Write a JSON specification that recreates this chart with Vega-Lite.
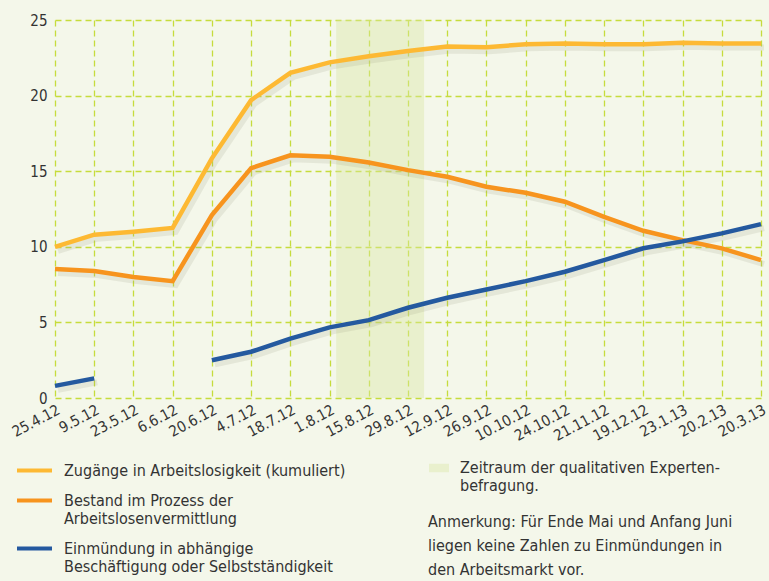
{
  "$schema": "https://vega.github.io/schema/vega-lite/v6.json",
  "width": 706,
  "height": 378,
  "autosize": "none",
  "padding": {"left": 55, "top": 20, "right": 8, "bottom": 183},
  "background": "#f4f7ea",
  "datasets": {
    "series": [
      {"i": 0, "series": "Zugänge", "value": 10.0},
      {"i": 1, "series": "Zugänge", "value": 10.8},
      {"i": 2, "series": "Zugänge", "value": 11.0},
      {"i": 3, "series": "Zugänge", "value": 11.25},
      {"i": 4, "series": "Zugänge", "value": 15.85},
      {"i": 5, "series": "Zugänge", "value": 19.7},
      {"i": 6, "series": "Zugänge", "value": 21.5},
      {"i": 7, "series": "Zugänge", "value": 22.2},
      {"i": 8, "series": "Zugänge", "value": 22.6},
      {"i": 9, "series": "Zugänge", "value": 22.95},
      {"i": 10, "series": "Zugänge", "value": 23.25},
      {"i": 11, "series": "Zugänge", "value": 23.2},
      {"i": 12, "series": "Zugänge", "value": 23.4},
      {"i": 13, "series": "Zugänge", "value": 23.45},
      {"i": 14, "series": "Zugänge", "value": 23.4},
      {"i": 15, "series": "Zugänge", "value": 23.4},
      {"i": 16, "series": "Zugänge", "value": 23.5},
      {"i": 17, "series": "Zugänge", "value": 23.45},
      {"i": 18, "series": "Zugänge", "value": 23.45},
      {"i": 0, "series": "Bestand", "value": 8.53},
      {"i": 1, "series": "Bestand", "value": 8.4},
      {"i": 2, "series": "Bestand", "value": 8.0},
      {"i": 3, "series": "Bestand", "value": 7.73},
      {"i": 4, "series": "Bestand", "value": 12.1},
      {"i": 5, "series": "Bestand", "value": 15.2},
      {"i": 6, "series": "Bestand", "value": 16.05},
      {"i": 7, "series": "Bestand", "value": 15.95},
      {"i": 8, "series": "Bestand", "value": 15.58},
      {"i": 9, "series": "Bestand", "value": 15.07},
      {"i": 10, "series": "Bestand", "value": 14.63},
      {"i": 11, "series": "Bestand", "value": 13.97},
      {"i": 12, "series": "Bestand", "value": 13.57},
      {"i": 13, "series": "Bestand", "value": 12.98},
      {"i": 14, "series": "Bestand", "value": 11.98},
      {"i": 15, "series": "Bestand", "value": 11.06},
      {"i": 16, "series": "Bestand", "value": 10.44},
      {"i": 17, "series": "Bestand", "value": 9.9},
      {"i": 18, "series": "Bestand", "value": 9.12},
      {"i": 0, "series": "Einmündung", "value": 0.8},
      {"i": 1, "series": "Einmündung", "value": 1.3},
      {"i": 2, "series": "Einmündung", "value": null},
      {"i": 3, "series": "Einmündung", "value": null},
      {"i": 4, "series": "Einmündung", "value": 2.5},
      {"i": 5, "series": "Einmündung", "value": 3.06},
      {"i": 6, "series": "Einmündung", "value": 3.93},
      {"i": 7, "series": "Einmündung", "value": 4.67},
      {"i": 8, "series": "Einmündung", "value": 5.15},
      {"i": 9, "series": "Einmündung", "value": 5.97},
      {"i": 10, "series": "Einmündung", "value": 6.63},
      {"i": 11, "series": "Einmündung", "value": 7.18},
      {"i": 12, "series": "Einmündung", "value": 7.73},
      {"i": 13, "series": "Einmündung", "value": 8.35},
      {"i": 14, "series": "Einmündung", "value": 9.12},
      {"i": 15, "series": "Einmündung", "value": 9.9},
      {"i": 16, "series": "Einmündung", "value": 10.36},
      {"i": 17, "series": "Einmündung", "value": 10.89},
      {"i": 18, "series": "Einmündung", "value": 11.5}
    ],
    "band": [
      {"start": 7.17, "end": 9.41, "label": "Zeitraum"}
    ]
  },
  "config": {
    "view": {"stroke": null},
    "font": "DejaVu Sans Condensed, DejaVu Sans, sans-serif",
    "axis": {
      "domain": false,
      "ticks": false,
      "grid": true,
      "gridColor": "#c6dc3c",
      "gridDash": [6, 4],
      "gridWidth": 1.3,
      "labelColor": "#333333",
      "labelFont": "DejaVu Sans Condensed, DejaVu Sans, sans-serif",
      "labelFontSize": 15,
      "title": null
    },
    "axisX": {
      "labelOverlap": false,
      "labelBound": false,
      "labelAngle": -28,
      "labelAlign": "right",
      "labelBaseline": "top",
      "labelPadding": 4
    },
    "axisY": {"labelPadding": 8},
    "legend": {
      "labelFont": "DejaVu Sans Condensed, DejaVu Sans, sans-serif",
      "labelFontSize": 16,
      "labelColor": "#333333",
      "labelLimit": 400
    }
  },
  "layer": [
    {
      "data": {"name": "band"},
      "mark": {"type": "rect", "opacity": 0.42},
      "encoding": {
        "x": {
          "field": "start",
          "type": "quantitative",
          "scale": {"domain": [0, 18], "nice": false, "zero": false},
          "axis": {
            "values": [0, 1, 2, 3, 4, 5, 6, 7, 8, 9, 10, 11, 12, 13, 14, 15, 16, 17, 18],
            "labelExpr": "['25.4.12','9.5.12','23.5.12','6.6.12','20.6.12','4.7.12','18.7.12','1.8.12','15.8.12','29.8.12','12.9.12','26.9.12','10.10.12','24.10.12','21.11.12','19.12.12','23.1.13','20.2.13','20.3.13'][datum.value]"
          }
        },
        "x2": {"field": "end"},
        "fill": {
          "field": "label",
          "type": "nominal",
          "scale": {"range": ["#d8e8a4"]},
          "legend": {
            "orient": "none",
            "legendX": 373,
            "legendY": 437,
            "title": ["Anmerkung: Für Ende Mai und Anfang Juni", "liegen keine Zahlen zu Einmündungen in", "den Arbeitsmarkt vor."],
            "titleOrient": "bottom",
            "titleFont": "DejaVu Sans Condensed, DejaVu Sans, sans-serif",
            "titleFontSize": 16,
            "titleFontWeight": "normal",
            "titleColor": "#333333",
            "titleLineHeight": 24,
            "titleLimit": 400,
            "titlePadding": 20,
            "symbolType": "M-1,-0.42H1V0.42H-1Z",
            "symbolSize": 400,
            "symbolOpacity": 0.42,
            "labelExpr": "['Zeitraum der qualitativen Experten-', 'befragung.']",
            "labelOffset": 10
          }
        }
      }
    },
    {
      "data": {"name": "series"},
      "mark": {"type": "line", "strokeWidth": 6, "color": "#8a8a70", "opacity": 0.15, "xOffset": 3, "yOffset": 4, "invalid": "break-paths-show-domains"},
      "encoding": {
        "x": {
          "field": "i",
          "type": "quantitative",
          "axis": {
            "values": [0, 1, 2, 3, 4, 5, 6, 7, 8, 9, 10, 11, 12, 13, 14, 15, 16, 17, 18],
            "labelExpr": "['25.4.12','9.5.12','23.5.12','6.6.12','20.6.12','4.7.12','18.7.12','1.8.12','15.8.12','29.8.12','12.9.12','26.9.12','10.10.12','24.10.12','21.11.12','19.12.12','23.1.13','20.2.13','20.3.13'][datum.value]"
          }
        },
        "y": {
          "field": "value",
          "type": "quantitative",
          "axis": {"values": [0, 5, 10, 15, 20, 25]}
        },
        "detail": {"field": "series", "type": "nominal"}
      }
    },
    {
      "data": {"name": "series"},
      "mark": {"type": "line", "strokeWidth": 4.5, "invalid": "break-paths-show-domains"},
      "encoding": {
        "x": {
          "field": "i",
          "type": "quantitative",
          "scale": {"domain": [0, 18], "nice": false, "zero": false},
          "axis": {
            "values": [0, 1, 2, 3, 4, 5, 6, 7, 8, 9, 10, 11, 12, 13, 14, 15, 16, 17, 18],
            "labelExpr": "['25.4.12','9.5.12','23.5.12','6.6.12','20.6.12','4.7.12','18.7.12','1.8.12','15.8.12','29.8.12','12.9.12','26.9.12','10.10.12','24.10.12','21.11.12','19.12.12','23.1.13','20.2.13','20.3.13'][datum.value]"
          }
        },
        "y": {
          "field": "value",
          "type": "quantitative",
          "scale": {"domain": [0, 25], "nice": false},
          "axis": {"values": [0, 5, 10, 15, 20, 25]}
        },
        "stroke": {
          "field": "series",
          "type": "nominal",
          "scale": {
            "domain": ["Zugänge", "Bestand", "Einmündung"],
            "range": ["#fdb933", "#f7941e", "#24599f"]
          },
          "legend": {
            "orient": "none",
            "legendX": -40,
            "legendY": 431,
            "title": null,
            "symbolType": "stroke",
            "symbolSize": 1225,
            "symbolStrokeWidth": 4,
            "rowPadding": 2,
            "labelOffset": 10,
            "labelExpr": "datum.value == 'Zugänge' ? 'Zugänge in Arbeitslosigkeit (kumuliert)' : datum.value == 'Bestand' ? ['Bestand im Prozess der', 'Arbeitslosenvermittlung'] : ['Einmündung in abhängige', 'Beschäftigung oder Selbstständigkeit']"
          }
        }
      }
    }
  ]
}
